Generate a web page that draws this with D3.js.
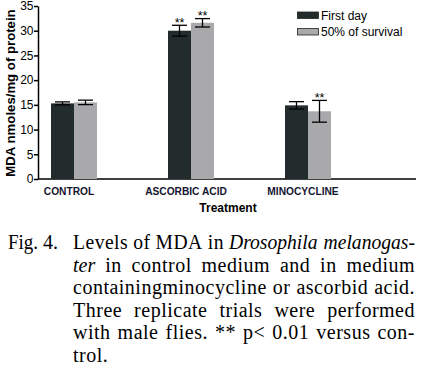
<!DOCTYPE html>
<html>
<head>
<meta charset="utf-8">
<script src="https://cdn.jsdelivr.net/npm/d3@7"></script>
<style>
  body { margin: 0; background: #fff; }
  svg { display: block; }
</style>
</head>
<body>
<svg id="chart" width="421" height="368"></svg>
<script>
const categories = ['CONTROL', 'ASCORBIC ACID', 'MINOCYCLINE'];
const seriesNames = ['First day', '50% of survival'];
const firstDay = [15.3, 30.0, 14.9];
const firstDayErr = [0.3, 1.1, 0.75];
const survival = [15.5, 31.6, 13.7];
const survivalErr = [0.45, 0.85, 2.2];
const firstDaySig = [false, true, false];
const survivalSig = [false, true, true];
const yTicks = [0, 5, 10, 15, 20, 25, 30, 35];

const captionLines = [
  [{ t: 'Levels of MDA in ' }, { t: 'Drosophila melanogas-', i: true }],
  [{ t: 'ter', i: true }, { t: ' in control medium and in medium' }],
  [{ t: 'containingminocycline or ascorbid acid.' }],
  [{ t: 'Three replicate trials were performed' }],
  [{ t: 'with male flies. ** p< 0.01 versus con-' }],
  [{ t: 'trol.' }]
];

main();

function main () {
  const svg = d3.select('svg#chart');
  const colors = ['#232c2c', '#a9a9ab'];
  const sans = 'Liberation Sans, Arial, sans-serif';
  const x0 = 38, y0 = 179;

  const x = d3.scalePoint().domain(categories).range([x0, 344]).padding(0.3077);
  const y = d3.scaleLinear().domain([0, 35]).range([y0, 6]);
  const barW = 23;

  // y axis
  const yAxis = svg.append('g').attr('transform', `translate(${x0},0)`)
    .call(d3.axisLeft(y).tickValues(yTicks).tickSize(4).tickSizeOuter(0));
  yAxis.select('.domain').attr('stroke', '#000').attr('stroke-width', 1.5);
  yAxis.selectAll('.tick line').attr('stroke', '#000').attr('stroke-width', 1.5);
  yAxis.selectAll('.tick text')
    .attr('font-family', sans)
    .attr('font-size', 12)
    .attr('fill', '#000')
    .attr('x', -4.5);

  // x axis line
  svg.append('line')
    .attr('x1', x0).attr('x2', 416).attr('y1', y0).attr('y2', y0)
    .attr('stroke', '#000').attr('stroke-width', 1.5);

  const series = [
    { vals: firstDay, err: firstDayErr, sig: firstDaySig, off: -barW },
    { vals: survival, err: survivalErr, sig: survivalSig, off: 0 }
  ];

  series.forEach((s, si) => {
    const g = svg.append('g');
    g.selectAll('rect').data(categories).join('rect')
      .attr('x', d => x(d) + s.off)
      .attr('y', (d, i) => y(s.vals[i]))
      .attr('width', barW)
      .attr('height', (d, i) => y0 - y(s.vals[i]))
      .attr('fill', colors[si]);

    categories.forEach((c, i) => {
      const cx = x(c) + s.off + barW / 2;
      const hi = y(s.vals[i] + s.err[i]);
      const lo = y(s.vals[i] - s.err[i]);
      g.append('line').attr('x1', cx).attr('x2', cx).attr('y1', hi).attr('y2', lo)
        .attr('stroke', '#000').attr('stroke-width', 1.3);
      [hi, lo].forEach(yy => {
        g.append('line').attr('x1', cx - 7.5).attr('x2', cx + 7.5).attr('y1', yy).attr('y2', yy)
          .attr('stroke', '#000').attr('stroke-width', 1.3);
      });
      if (s.sig[i]) {
        g.append('text').text('**')
          .attr('x', cx).attr('y', hi + 1.5)
          .attr('text-anchor', 'middle')
          .attr('font-family', sans)
          .attr('font-size', 12.5)
          .attr('fill', '#000');
      }
    });
  });

  // category labels
  svg.append('g').selectAll('text').data(categories).join('text')
    .text(d => d)
    .attr('x', d => x(d) - 5)
    .attr('y', 195)
    .attr('text-anchor', 'middle')
    .attr('font-family', sans)
    .attr('font-weight', 'bold')
    .attr('font-size', 10.2)
    .attr('fill', '#141430');

  svg.append('text').text('Treatment')
    .attr('x', 228).attr('y', 212)
    .attr('text-anchor', 'middle')
    .attr('font-family', sans)
    .attr('font-weight', 'bold')
    .attr('font-size', 12)
    .attr('fill', '#000');

  svg.append('text').text('MDA nmoles/mg of protein')
    .attr('transform', 'translate(15,93) rotate(-90)')
    .attr('text-anchor', 'middle')
    .attr('font-family', sans)
    .attr('font-weight', 'bold')
    .attr('font-size', 13.2)
    .attr('fill', '#000');

  // legend
  const lg = svg.append('g');
  seriesNames.forEach((n, i) => {
    lg.append('rect').attr('x', 297.5).attr('y', 12 + i * 16.5).attr('width', 21).attr('height', 6.5)
      .attr('fill', colors[i]).attr('stroke', '#222').attr('stroke-width', 0.8);
    lg.append('text').text(n)
      .attr('x', 321).attr('y', 19.5 + i * 16.5)
      .attr('font-family', sans)
      .attr('font-size', 12)
      .attr('fill', '#000');
  });

  drawCaption(svg);
}

function drawCaption (svg) {
  const font = 'Liberation Serif, Times New Roman, serif';
  const size = 20;
  const left = 73, right = 415;
  const base = 249, lh = 22.6;
  const minGap = 5;

  const fig = svg.append('g')
    .attr('font-family', font).attr('font-size', size).attr('fill', '#000');
  fig.append('text').text('Fig.').attr('x', 8).attr('y', base)
    .attr('textLength', 30).attr('lengthAdjust', 'spacingAndGlyphs');
  fig.append('text').text('4.').attr('x', 43).attr('y', base);

  captionLines.forEach((parts, li) => {
    // split into word groups, keeping italic flags; a part that does not
    // start after a space continues the previous word
    const groups = [];
    let prevEndsSpace = true;
    parts.forEach(p => {
      p.t.split(' ').forEach((w, wi) => {
        if (w === '') return;
        const cont = wi === 0 && !prevEndsSpace && groups.length > 0;
        if (cont) groups[groups.length - 1].push({ t: w, i: p.i });
        else groups.push([{ t: w, i: p.i }]);
      });
      prevEndsSpace = p.t.endsWith(' ');
    });
    const yy = base + li * lh;
    const nodes = groups.map(grp => {
      const t = svg.append('text').attr('y', yy).attr('x', 0)
        .attr('font-family', font).attr('font-size', size).attr('fill', '#000');
      grp.forEach(w => t.append('tspan').text(w.t)
        .attr('font-style', w.i ? 'italic' : 'normal')
        .attr('letter-spacing', w.i ? 0 : 0.5));
      return t;
    });
    let widths = nodes.map(n => n.node().getBBox().width);
    let total = d3.sum(widths);
    const avail = right - left;
    let scale = 1;
    if (total + minGap * (nodes.length - 1) > avail) {
      scale = (avail - minGap * (nodes.length - 1)) / total;
      widths = widths.map(w => w * scale);
      total = d3.sum(widths);
    }
    const justify = li < captionLines.length - 1 && nodes.length > 1;
    const gap = justify ? (avail - total) / (nodes.length - 1) : size * 0.3;
    let cx = left;
    nodes.forEach((n, k) => {
      n.attr('x', null)
        .attr('transform', `translate(${cx},0) scale(${scale},1)`);
      cx += widths[k] + gap;
    });
  });
}
</script>
</body>
</html>
